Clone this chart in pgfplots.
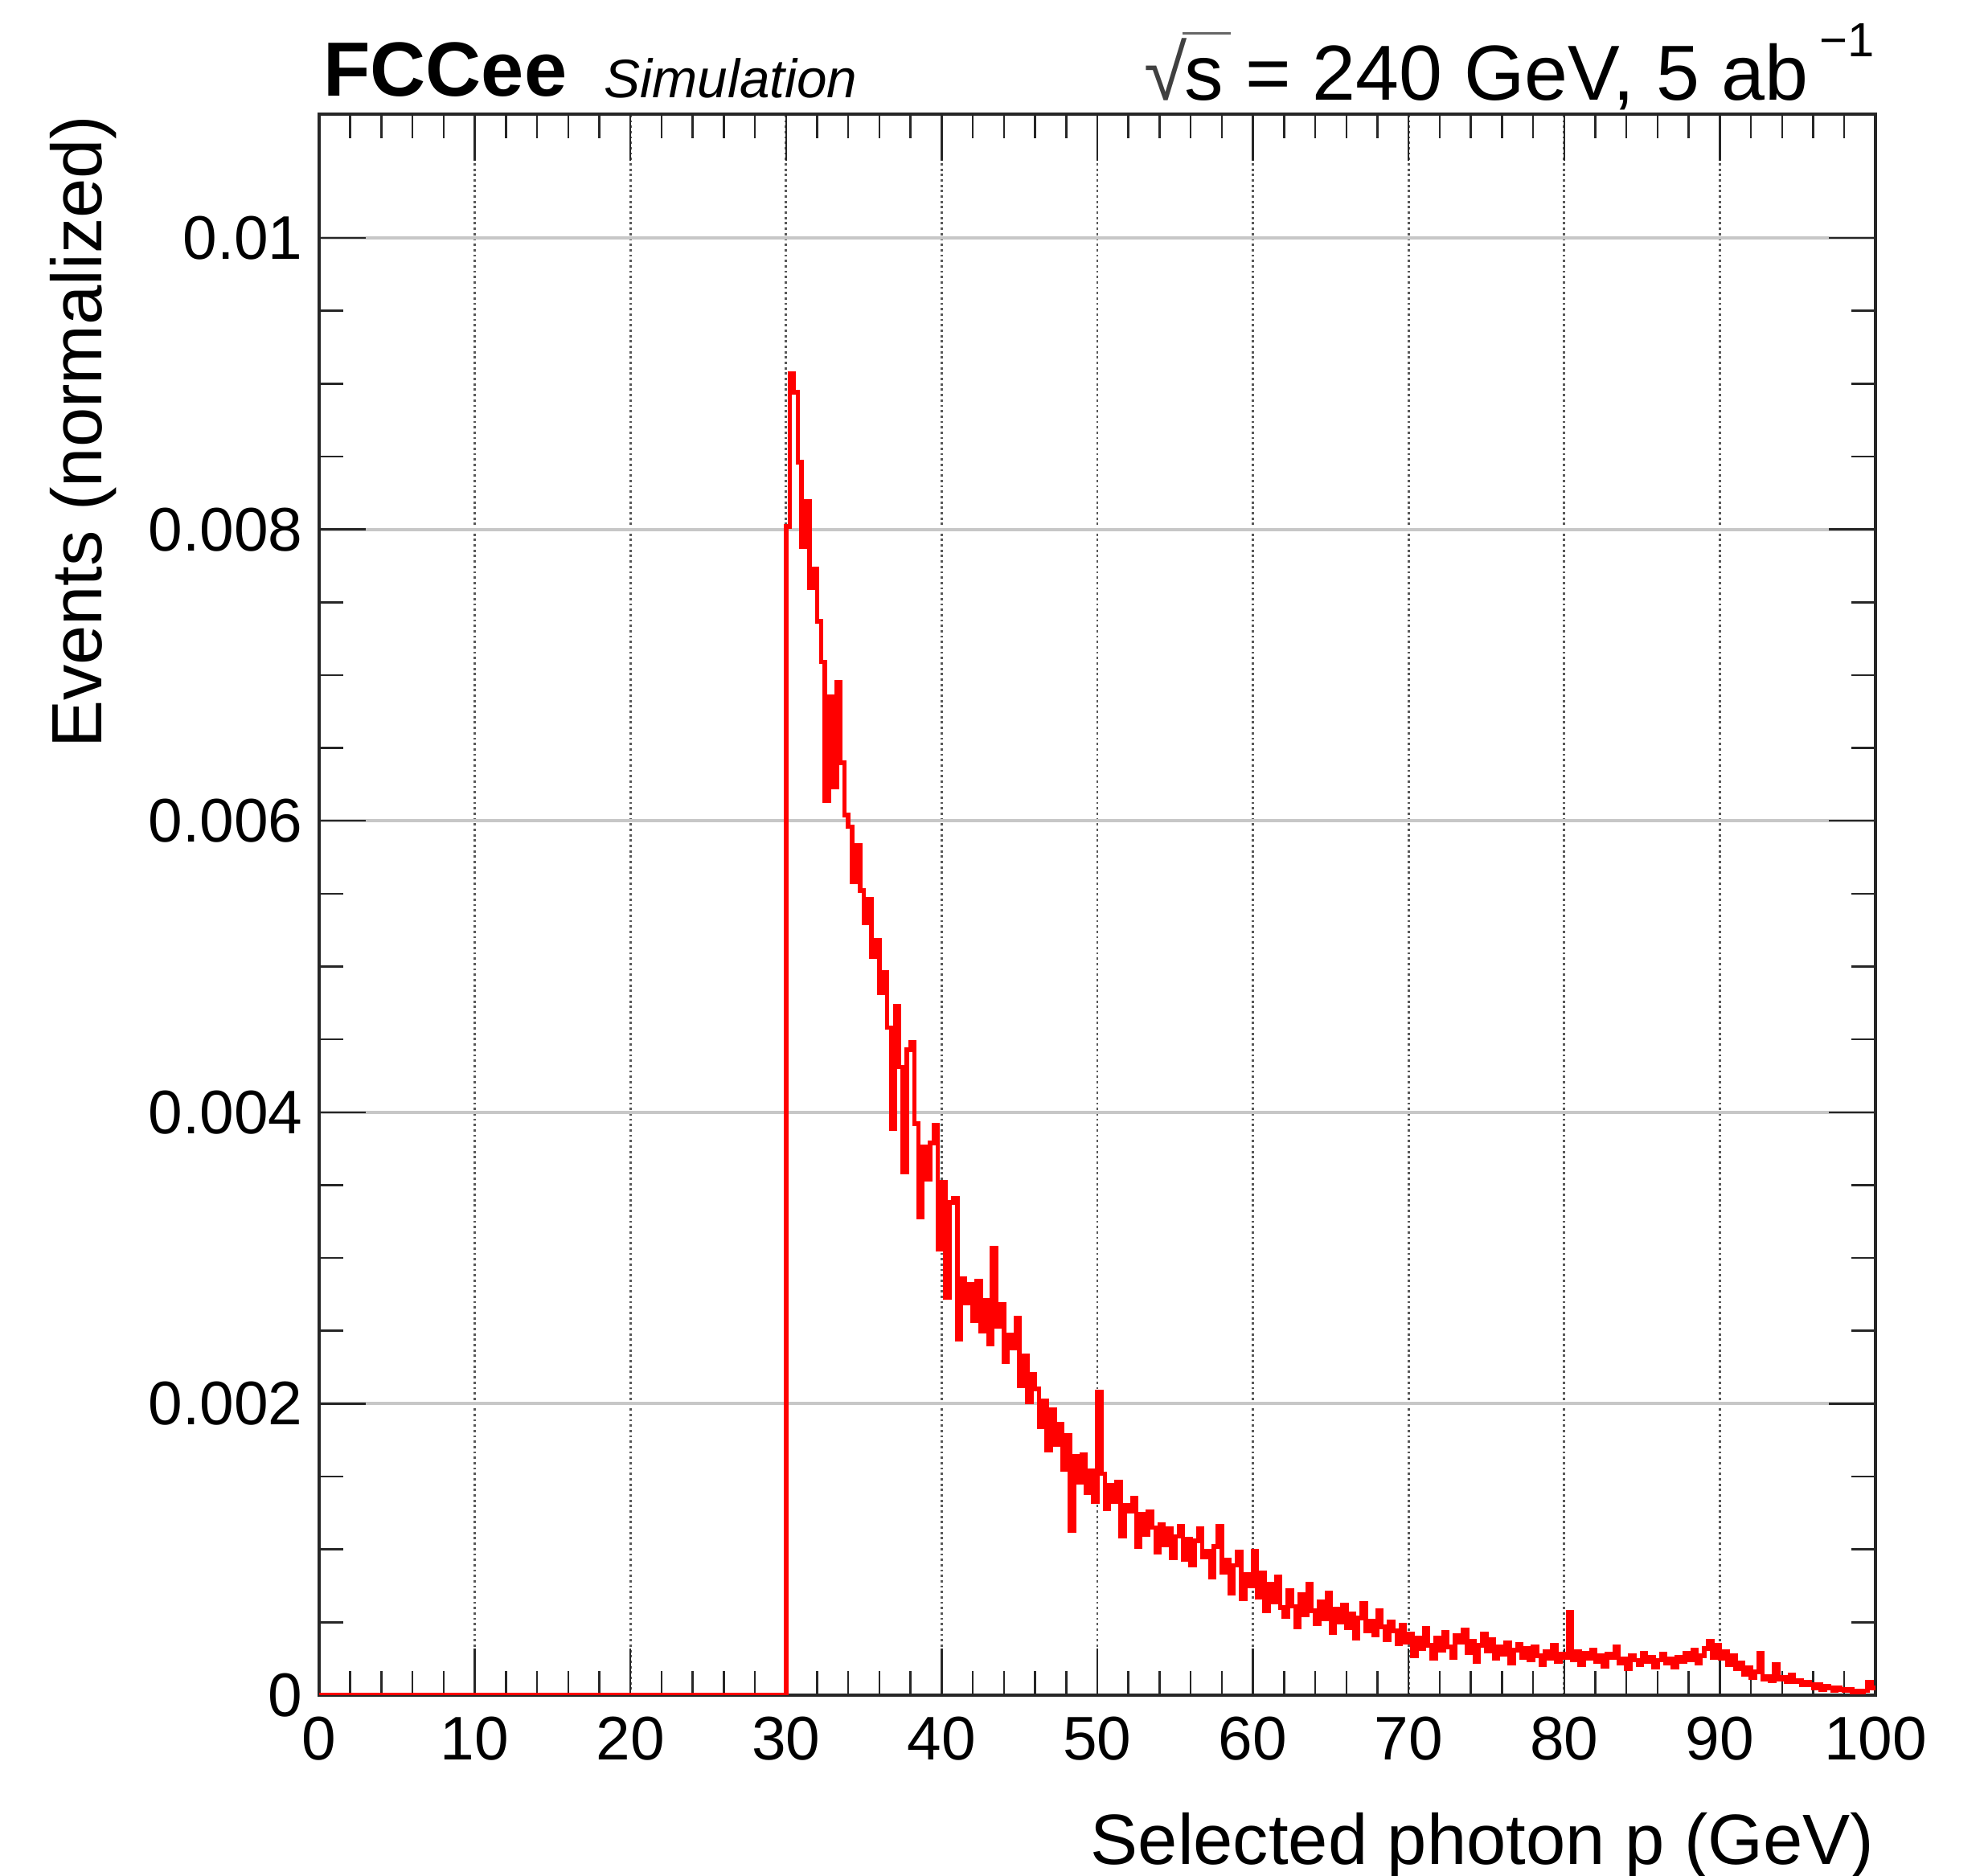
\documentclass[border=0pt]{standalone}
\usepackage{pgfplots}
\pgfplotsset{compat=1.18}
\usepackage{fontspec}
\setmainfont{Liberation Sans}

\begin{document}
\begin{tikzpicture}
\useasboundingbox (0,0) rectangle (12.34,11.67);

\begin{axis}[
  at={(1.985cm,1.125cm)}, anchor=south west,
  scale only axis, width=9.68cm, height=9.835cm,
  xmin=0, xmax=100, ymin=0, ymax=0.01085,
  xtick={0,10,...,100},
  xticklabels={0,10,20,30,40,50,60,70,80,90,100},
  ytick={0,0.002,0.004,0.006,0.008,0.01},
  yticklabels={0,0.002,0.004,0.006,0.008,0.01},
  scaled y ticks=false,
  minor x tick num=4, minor y tick num=3,
  tick align=inside,
  major tick length=0.29cm, minor tick length=0.15cm,
  every tick/.style={black!85, line width=0.35pt},
  axis line style={black!85, line width=0.45pt},
  xmajorgrids, ymajorgrids,
  x grid style={black!65, line width=0.4pt, dash pattern=on 0.4pt off 0.55pt},
  y grid style={black!22, line width=0.6pt},
  ticklabel style={font=\fontsize{10.9}{12}\selectfont},
  xticklabel style={anchor=north, inner sep=0pt, yshift=-0.13cm},
  yticklabel style={anchor=east, inner sep=0pt, xshift=-0.095cm},
]
\addplot[const plot, red, line width=0.8pt] table {
x y
0 0
30.00 0.00802
30.25 0.00907
30.50 0.00894
30.75 0.00846
31.00 0.00788
31.25 0.00819
31.50 0.00760
31.75 0.00773
32.00 0.00737
32.25 0.00709
32.50 0.00614
32.75 0.00685
33.00 0.00623
33.25 0.00695
33.50 0.00640
33.75 0.00604
34.00 0.00596
34.25 0.00558
34.50 0.00583
34.75 0.00552
35.00 0.00530
35.25 0.00546
35.50 0.00507
35.75 0.00518
36.00 0.00482
36.25 0.00496
36.50 0.00458
36.75 0.00389
37.00 0.00473
37.25 0.00431
37.50 0.00359
37.75 0.00443
38.00 0.00448
38.25 0.00392
38.50 0.00328
38.75 0.00376
39.00 0.00354
39.25 0.00379
39.50 0.00391
39.75 0.00306
40.00 0.00352
40.25 0.00273
40.50 0.00338
40.75 0.00341
41.00 0.00244
41.25 0.00286
41.50 0.00269
41.75 0.00282
42.00 0.00257
42.25 0.00284
42.50 0.00250
42.75 0.00271
43.00 0.00241
43.25 0.00307
43.50 0.00253
43.75 0.00268
44.00 0.00229
44.25 0.00247
44.50 0.00238
44.75 0.00259
45.00 0.00212
45.25 0.00233
45.50 0.00201
45.75 0.00220
46.00 0.00210
46.25 0.00184
46.50 0.00202
46.75 0.00168
47.00 0.00196
47.25 0.00172
47.50 0.00186
47.75 0.00155
48.00 0.00178
48.25 0.00113
48.50 0.00164
48.75 0.00146
49.00 0.00165
49.25 0.00139
49.50 0.00154
49.75 0.00133
50.00 0.00208
50.25 0.00152
50.50 0.00128
50.75 0.00144
51.00 0.00133
51.25 0.00146
51.50 0.00109
51.75 0.00130
52.00 0.00126
52.25 0.00135
52.50 0.00102
52.75 0.00124
53.00 0.00110
53.25 0.00126
53.50 0.00115
53.75 0.00098
54.00 0.00117
54.25 0.00103
54.50 0.00114
54.75 0.00094
55.00 0.00109
55.25 0.00116
55.50 0.00093
55.75 0.00107
56.00 0.00089
56.25 0.00106
56.50 0.00114
56.75 0.00095
57.00 0.00099
57.25 0.00081
57.50 0.00102
57.75 0.00116
58.00 0.00084
58.25 0.00093
58.50 0.00070
58.75 0.00089
59.00 0.00098
59.25 0.00066
59.50 0.00083
59.75 0.00075
60.00 0.00099
60.25 0.00067
60.50 0.00084
60.75 0.00058
61.00 0.00076
61.25 0.00064
61.50 0.00081
61.75 0.00060
62.00 0.00054
62.25 0.00072
62.50 0.00061
62.75 0.00047
63.00 0.00069
63.25 0.00055
63.50 0.00076
63.75 0.00058
64.00 0.00049
64.25 0.00064
64.50 0.00052
64.75 0.00070
65.00 0.00043
65.25 0.00059
65.50 0.00050
65.75 0.00062
66.00 0.00046
66.25 0.00056
66.50 0.00039
66.75 0.00053
67.00 0.00063
67.25 0.00044
67.50 0.00051
67.75 0.00041
68.00 0.00058
68.25 0.00047
68.50 0.00038
68.75 0.00050
69.00 0.00044
69.25 0.00035
69.50 0.00048
69.75 0.00036
70.00 0.00042
70.25 0.00027
70.50 0.00039
70.75 0.00032
71.00 0.00046
71.25 0.00034
71.50 0.00025
71.75 0.00039
72.00 0.00031
72.25 0.00043
72.50 0.00033
72.75 0.00026
73.00 0.00041
73.25 0.00036
73.50 0.00045
73.75 0.00029
74.00 0.00037
74.25 0.00023
74.50 0.00034
74.75 0.00042
75.00 0.00030
75.25 0.00038
75.50 0.00025
75.75 0.00033
76.00 0.00028
76.25 0.00036
76.50 0.00022
76.75 0.00031
77.00 0.00035
77.25 0.00026
77.50 0.00032
77.75 0.00024
78.00 0.00033
78.25 0.00027
78.50 0.00021
78.75 0.00030
79.00 0.00025
79.25 0.00034
79.50 0.00023
79.75 0.00028
80.00 0.00026
80.25 0.00057
80.50 0.00024
80.75 0.00030
81.00 0.00021
81.25 0.00029
81.50 0.00025
81.75 0.00031
82.00 0.00023
82.25 0.00027
82.50 0.00020
82.75 0.00028
83.00 0.00026
83.25 0.00033
83.50 0.00022
83.75 0.00025
84.00 0.00018
84.25 0.00027
84.50 0.00024
84.75 0.00021
85.00 0.00029
85.25 0.00023
85.50 0.00026
85.75 0.00019
86.00 0.00024
86.25 0.00028
86.50 0.00022
86.75 0.00025
87.00 0.00019
87.25 0.00026
87.50 0.00023
87.75 0.00029
88.00 0.00024
88.25 0.00031
88.50 0.00022
88.75 0.00027
89.00 0.00032
89.25 0.00037
89.50 0.00026
89.75 0.00034
90.00 0.00025
90.25 0.00030
90.50 0.00021
90.75 0.00027
91.00 0.00018
91.25 0.00022
91.50 0.00014
91.75 0.00019
92.00 0.00012
92.25 0.00016
92.50 0.00029
92.75 0.00011
93.00 0.00013
93.25 0.00010
93.50 0.00021
93.75 0.00011
94.00 0.00012
94.25 0.00009
94.50 0.00014
94.75 0.00009
95.00 0.00010
95.25 0.00007
95.50 0.00009
95.75 0.00007
96.00 0.00005
96.25 0.00007
96.50 0.00004
96.75 0.00006
97.00 0.00005
97.25 0.00003
97.50 0.00005
97.75 0.00004
98.00 0.00003
98.25 0.00004
98.50 0.00002
98.75 0.00003
99.00 0.00002
99.25 0.00003
99.50 0.00009
99.75 0.00005
100.00 0.00005
};
\end{axis}

% labels and header, placed in picture coordinates (cm)
\node[rotate=90, anchor=base east, inner sep=0pt, font=\fontsize{12.6}{14}\selectfont]
  at (0.635,10.96) {Events (normalized)};
\node[anchor=base east, inner sep=0pt, font=\fontsize{12.6}{14}\selectfont]
  at (11.665,0.07) {Selected photon p (GeV)};
\node[anchor=base west, inner sep=0pt, font=\fontsize{13.6}{15}\selectfont\bfseries]
  at (2.005,11.07) {FCCee};
\node[anchor=base west, inner sep=0pt, font=\fontsize{13.6}{15}\selectfont\itshape, font=\fontsize{9.6}{11}\selectfont\itshape]
  at (3.75,11.06) {Simulation};
\node[anchor=base east, inner sep=0pt, font=\fontsize{13.8}{15}\selectfont]
  at (11.665,11.045) {{\color{black!75}√}\kern-0.06em\rlap{\color{black!60}\rule[0.84em]{0.62em}{0.04em}}\kern0.03em s = 240 GeV, 5 ab\hspace{0.07cm}\raisebox{0.27cm}{\fontsize{8.5}{9}\selectfont −1}};
\end{tikzpicture}
\end{document}
